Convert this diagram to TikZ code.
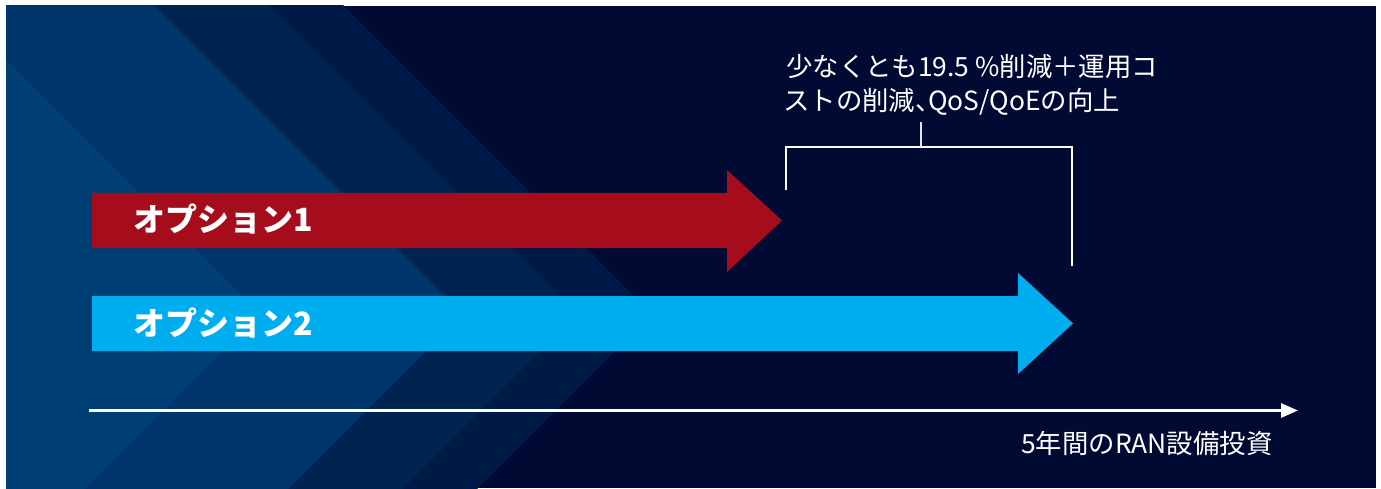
\documentclass[tikz,border=0pt]{standalone}
\usepackage{fontspec}
\setmainfont{Noto Sans CJK JP}
\usetikzlibrary{arrows.meta}
\definecolor{bgnavy}{HTML}{000A33}
\definecolor{stripeA}{HTML}{003F76}
\definecolor{stripeB}{HTML}{00356B}
\definecolor{stripeC}{HTML}{00244F}
\definecolor{stripeD}{HTML}{001A47}
\definecolor{optred}{HTML}{A50D1C}
\definecolor{optblue}{HTML}{00AEEF}
\newcommand{\halfcomma}{{\addfontfeatures{RawFeature=+halt}、}}
\begin{document}
\begin{tikzpicture}[x=1pt,y=-1pt,
 optlabel/.style={text=white, font=\bfseries\fontsize{32}{38}\selectfont, inner sep=0, anchor=base west},
 note/.style={text=white, font=\fontsize{26.4}{31}\selectfont, inner sep=0, anchor=base west},
 bracketline/.style={draw=white, line width=2pt},
 ticklinestyle/.style={draw=white!80!gray, line width=2pt},
 axisline/.style={draw=white, line width=3pt, -{Triangle[length=17pt,width=14pt]}},
]
\useasboundingbox (0,0) rectangle (1381,489);
\fill[white] (0,0) rectangle (1381,489);
\begin{scope}
\clip (6,6) rectangle (1376,488);
\fill[bgnavy] (6,6) rectangle (1376,488);
\foreach \c/\col in {652/stripeD,577/stripeC,463/stripeB,260/stripeA}{
  \fill[\col] (\c-364,-50) -- (\c,314) -- (\c-236,550) -- (-300,550) -- (-300,-50) -- cycle;
}
\end{scope}
% option arrows
\fill[optred] (92,193) -- (727,193) -- (727,170) -- (782,220.5) -- (727,272) -- (727,248) -- (92,248) -- cycle;
\fill[optblue] (92,296) -- (1018,296) -- (1018,273) -- (1073,323.5) -- (1018,374) -- (1018,351) -- (92,351) -- cycle;
\node[optlabel] (opt1) at (133,232) {オプション1};
\node[optlabel] (opt2) at (133,335) {オプション2};
% bracket
\coordinate (bl) at (786,190);
\coordinate (blt) at (786,147);
\coordinate (brt) at (1072,147);
\coordinate (br) at (1072,266);
\coordinate (tickb) at (921,147);
\coordinate (tickt) at (921,122);
\draw[bracketline] (bl) -- (blt) -- (brt) -- (br);
\draw[ticklinestyle] (tickb) -- (tickt);
\node[note] (n1) at (786,77) {少なくとも19.5 \%削減＋運用コ};
\node[note] (n2) at (783,111) {ストの削減\halfcomma QoS/QoEの向上};
% axis
\coordinate (axs) at (89,410.5);
\coordinate (axe) at (1298,410.5);
\draw[axisline] (axs) -- (axe);
\node[note] (axl) at (1021,453) {5年間のRAN設備投資};
\end{tikzpicture}
\end{document}
